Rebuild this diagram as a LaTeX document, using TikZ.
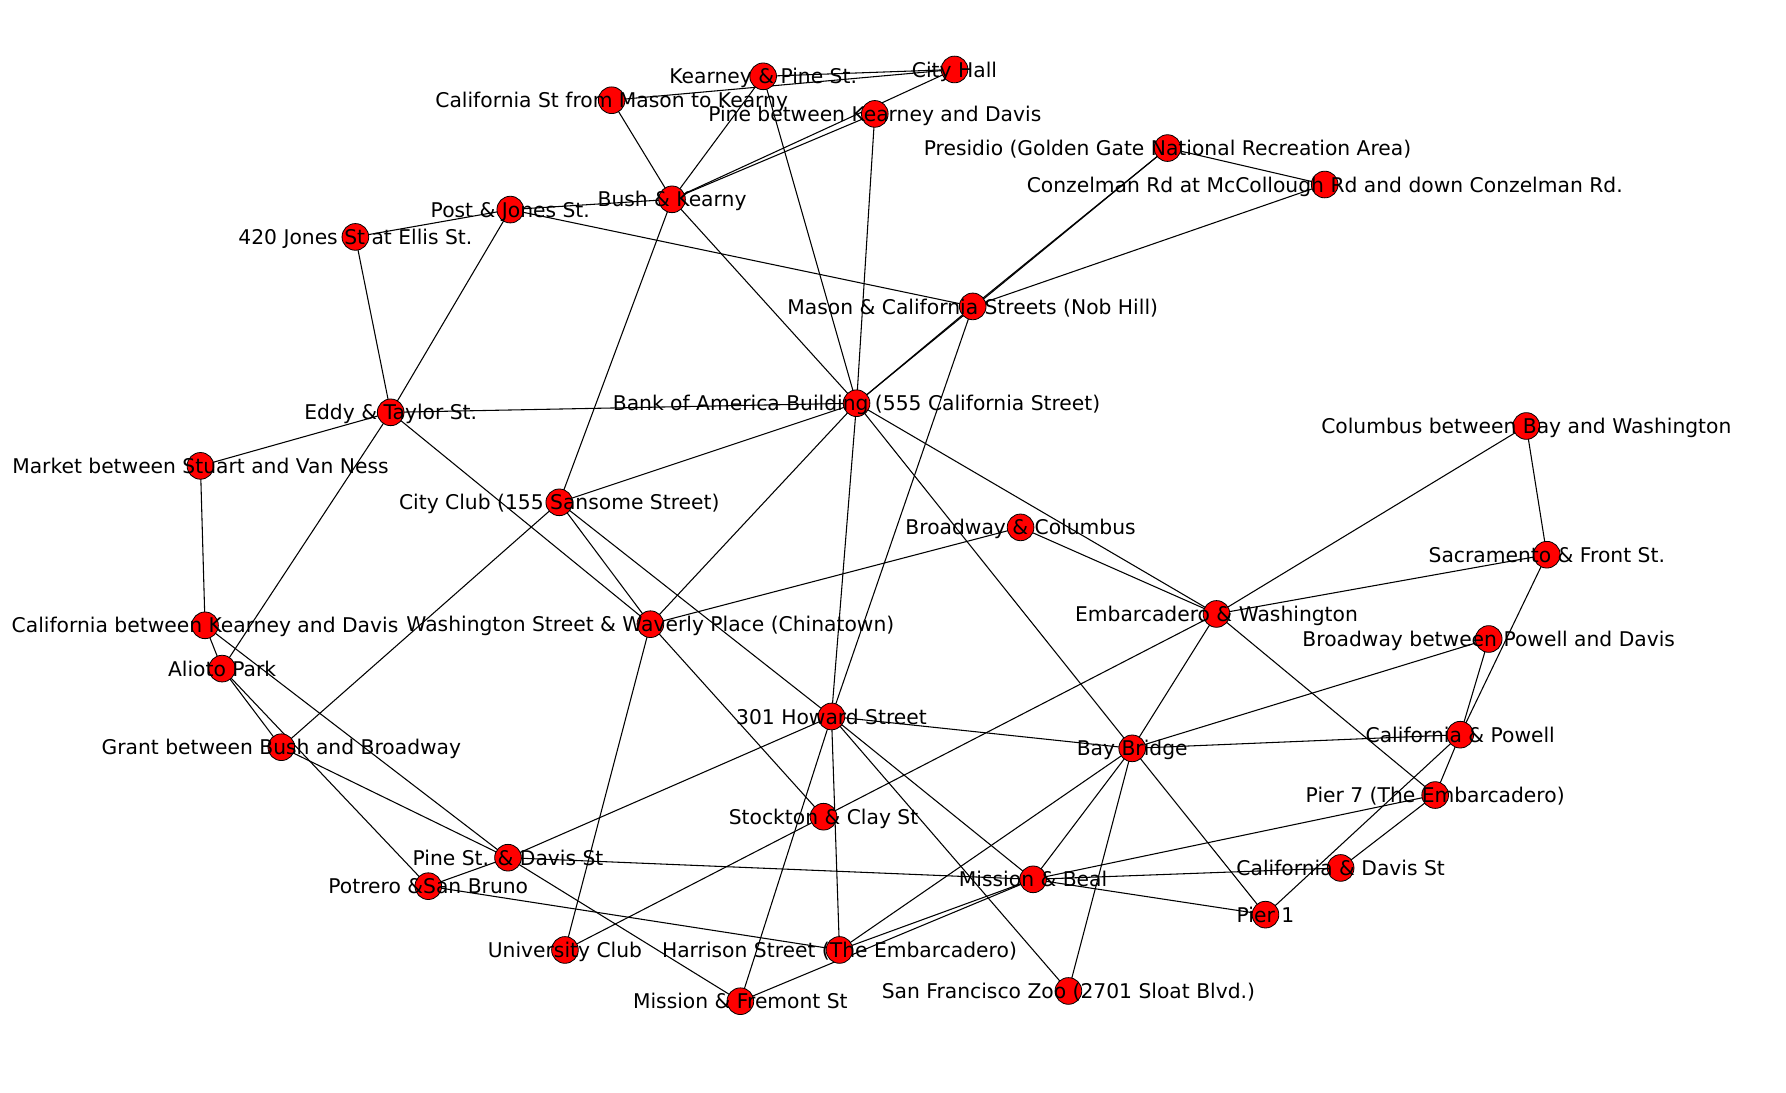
\documentclass[tikz,border=0pt]{standalone}
\usepackage{fontspec}
\setmainfont{DejaVu Sans}
\begin{document}
\begin{tikzpicture}[x=0.854pt,y=-0.854pt,
  edge/.style={draw=black, line width=0.8pt},
  vtx/.style={circle, fill=red, draw=black, line width=0.6pt, minimum size=20pt, inner sep=0pt},
  lbl/.style={inner sep=0pt, anchor=center, text=black, text height=0.75em, text depth=0.25em, yshift=-3.2pt, font=\fontsize{15.2}{18}\selectfont}]
\useasboundingbox (0,0) rectangle (1568,959);
% positions
\coordinate (kp) at (670,67);
\coordinate (ch) at (838,61);
\coordinate (cs) at (537,88);
\coordinate (pb) at (768,100);
\coordinate (pr) at (1025,130);
\coordinate (cz) at (1163,162);
\coordinate (bk) at (590,175);
\coordinate (pj) at (448,184);
\coordinate (j420) at (312,208);
\coordinate (mc) at (854,269);
\coordinate (boa) at (752,354);
\coordinate (et) at (343,362);
\coordinate (cbw) at (1340,374);
\coordinate (mk) at (176,409);
\coordinate (cc) at (491,441);
\coordinate (bc) at (896,463);
\coordinate (sf) at (1358,487);
\coordinate (ew) at (1068,539);
\coordinate (cbk) at (180,549);
\coordinate (ww) at (571,548);
\coordinate (bpd) at (1307,561);
\coordinate (al) at (195,587);
\coordinate (h301) at (730,629);
\coordinate (cp) at (1282,645);
\coordinate (gr) at (247,656);
\coordinate (bb) at (994,657);
\coordinate (p7) at (1260,698);
\coordinate (sc) at (723,717);
\coordinate (pd) at (446,753);
\coordinate (cd) at (1177,762);
\coordinate (mb) at (907,772);
\coordinate (pt) at (376,778);
\coordinate (p1) at (1111,803);
\coordinate (uc) at (496,834);
\coordinate (hs) at (737,834);
\coordinate (zoo) at (938,870);
\coordinate (mf) at (650,879);
% edges
\foreach \a/\b in {kp/ch, cs/ch, cs/bk, kp/bk, kp/boa, ch/bk, pb/bk, pb/boa,
  pr/cz, pr/mc, pr/boa, mc/boa, cz/mc, bk/pj, bk/boa, bk/cc, pj/j420, pj/mc, pj/et,
  j420/et, mc/h301, boa/et, boa/cc, boa/ww, boa/h301, boa/bb, boa/ew, et/mk, et/ww,
  et/al, mk/cbk, cc/ww, cc/h301, cc/gr, bc/ww, bc/ew, cbw/ew, cbw/sf, sf/ew, sf/cp,
  ew/bb, ew/p7, ew/sc, sc/uc, ww/uc, ww/sc, bpd/bb, bpd/cp, h301/bb, h301/hs,
  h301/mf, h301/mb, h301/zoo, h301/pd, cp/bb, cp/p7, cp/p1, bb/mb, bb/hs, bb/zoo,
  bb/p1, p7/cd, p7/mb, mb/cd, mb/p1, mb/hs, mb/mf, pd/mb, pd/mf, pd/pt, pt/hs,
  al/pt, cbk/al, al/gr, cbk/pd, gr/pd}
  \draw[edge] (\a) -- (\b);
% vertices
\foreach \n in {kp,ch,cs,pb,pr,cz,bk,pj,j420,mc,boa,et,cbw,mk,cc,bc,sf,ew,cbk,ww,bpd,al,
  h301,cp,gr,bb,p7,sc,pd,cd,mb,pt,p1,uc,hs,zoo,mf}
  \node[vtx] (v\n) at (\n) {};
% labels
\node[lbl] (tkp) at (kp) {Kearney \& Pine St.};
\node[lbl] (tch) at (ch) {City Hall};
\node[lbl] (tcs) at (cs) {California St from Mason to Kearny};
\node[lbl] (tpb) at (pb) {Pine between Kearney and Davis};
\node[lbl] (tpr) at (pr) {Presidio (Golden Gate National Recreation Area)};
\node[lbl] (tcz) at (cz) {Conzelman Rd at McCollough Rd and down Conzelman Rd.};
\node[lbl] (tbk) at (bk) {Bush \& Kearny};
\node[lbl] (tpj) at (pj) {Post \& Jones St.};
\node[lbl] (tj420) at (j420) {420 Jones St at Ellis St.};
\node[lbl] (tmc) at (mc) {Mason \& California Streets (Nob Hill)};
\node[lbl] (tboa) at (boa) {Bank of America Building (555 California Street)};
\node[lbl] (tet) at (et) {Eddy \& Taylor St.};
\node[lbl] (tcbw) at (cbw) {Columbus between Bay and Washington};
\node[lbl] (tmk) at (mk) {Market between Stuart and Van Ness};
\node[lbl] (tcc) at (cc) {City Club (155 Sansome Street)};
\node[lbl] (tbc) at (bc) {Broadway \& Columbus};
\node[lbl] (tsf) at (sf) {Sacramento \& Front St.};
\node[lbl] (tew) at (ew) {Embarcadero \& Washington};
\node[lbl] (tcbk) at (cbk) {California between Kearney and Davis};
\node[lbl] (tww) at (ww) {Washington Street \& Waverly Place (Chinatown)};
\node[lbl] (tbpd) at (bpd) {Broadway between Powell and Davis};
\node[lbl] (tal) at (al) {Alioto Park};
\node[lbl] (th301) at (h301) {301 Howard Street};
\node[lbl] (tcp) at (cp) {California \& Powell};
\node[lbl] (tgr) at (gr) {Grant between Bush and Broadway};
\node[lbl] (tbb) at (bb) {Bay Bridge};
\node[lbl] (tp7) at (p7) {Pier 7 (The Embarcadero)};
\node[lbl] (tsc) at (sc) {Stockton \& Clay St};
\node[lbl] (tpd) at (pd) {Pine St. \& Davis St};
\node[lbl] (tcd) at (cd) {California \& Davis St};
\node[lbl] (tmb) at (mb) {Mission \& Beal};
\node[lbl] (tpt) at (pt) {Potrero \&San Bruno};
\node[lbl] (tp1) at (p1) {Pier 1};
\node[lbl] (tuc) at (uc) {University Club};
\node[lbl] (ths) at (hs) {Harrison Street (The Embarcadero)};
\node[lbl] (tzoo) at (zoo) {San Francisco Zoo (2701 Sloat Blvd.)};
\node[lbl] (tmf) at (mf) {Mission \& Fremont St};
\end{tikzpicture}
\end{document}
